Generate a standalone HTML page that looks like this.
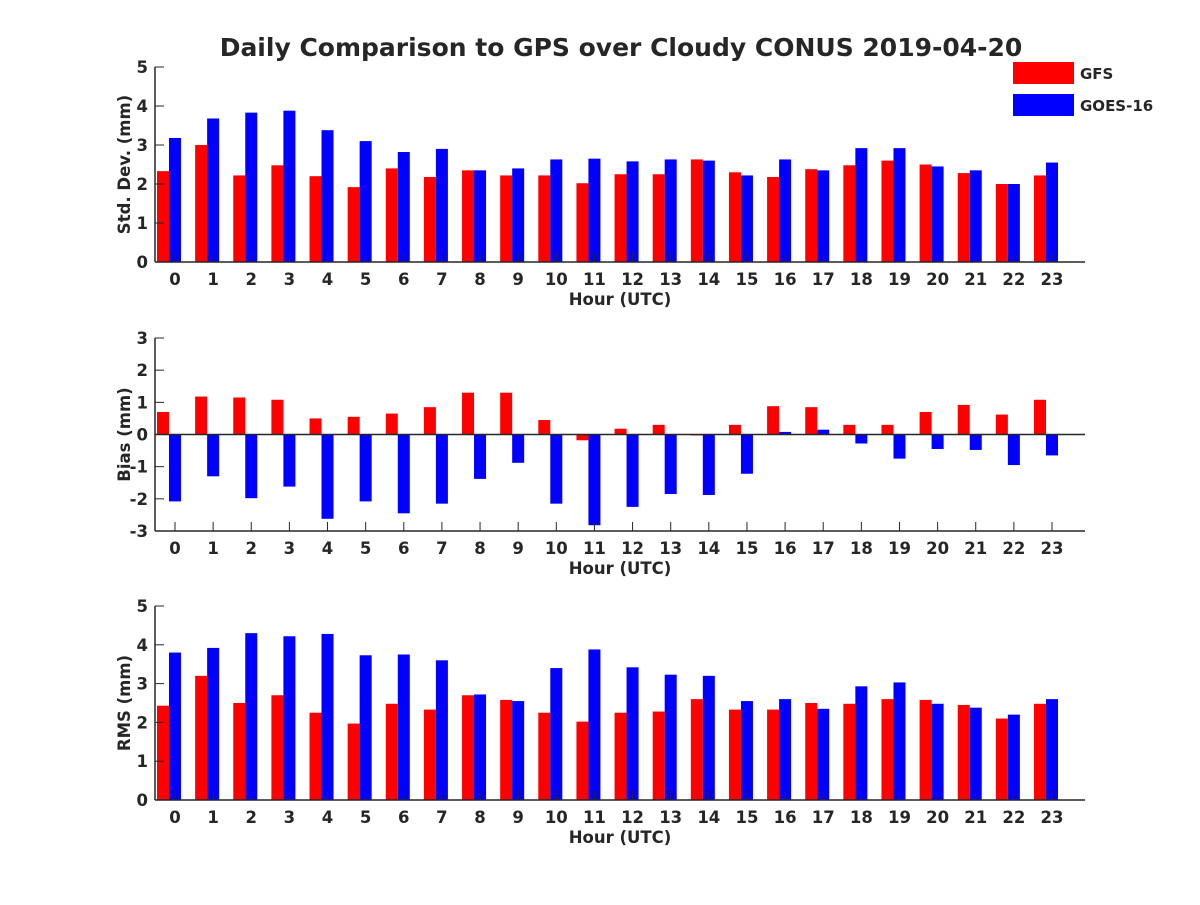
<!DOCTYPE html>
<html><head><meta charset="utf-8"><style>
body{margin:0;background:#fff;}
svg text{font-family:"DejaVu Sans","Liberation Sans",sans-serif;font-weight:bold;fill:#262626;}
</style></head><body>
<svg id="chart" width="1200" height="900" xmlns="http://www.w3.org/2000/svg">
<rect width="1200" height="900" fill="#fff"/>
<text x="621" y="56" text-anchor="middle" font-size="25" fill="#000">Daily Comparison to GPS over Cloudy CONUS 2019-04-20</text>
<g>
<rect x="1013" y="62" width="61" height="22" fill="#ff0000"/>
<text x="1080" y="79" font-size="15" fill="#000">GFS</text>
<rect x="1013" y="94" width="61" height="22" fill="#0000ff"/>
<text x="1080" y="111" font-size="15" fill="#000">GOES-16</text>
</g>
</svg>
<script>
const hours=[0,1,2,3,4,5,6,7,8,9,10,11,12,13,14,15,16,17,18,19,20,21,22,23];
const stdGFS=[2.33,3.0,2.22,2.48,2.2,1.92,2.4,2.18,2.35,2.22,2.22,2.02,2.25,2.25,2.63,2.3,2.18,2.38,2.48,2.6,2.5,2.28,2.0,2.22];
const stdGOES=[3.18,3.68,3.83,3.88,3.38,3.1,2.82,2.9,2.35,2.4,2.63,2.65,2.58,2.63,2.6,2.22,2.63,2.35,2.92,2.92,2.45,2.35,2.0,2.55];
const biasGFS=[0.7,1.18,1.15,1.08,0.5,0.55,0.65,0.85,1.3,1.3,0.45,-0.18,0.18,0.3,-0.03,0.3,0.88,0.85,0.3,0.3,0.7,0.92,0.62,1.08];
const biasGOES=[-2.08,-1.3,-1.98,-1.62,-2.62,-2.08,-2.45,-2.15,-1.38,-0.88,-2.15,-2.82,-2.25,-1.85,-1.88,-1.22,0.08,0.15,-0.28,-0.75,-0.45,-0.48,-0.95,-0.65];
const rmsGFS=[2.43,3.2,2.5,2.7,2.25,1.97,2.48,2.33,2.7,2.58,2.25,2.02,2.25,2.28,2.6,2.33,2.33,2.5,2.48,2.6,2.58,2.45,2.1,2.48];
const rmsGOES=[3.8,3.92,4.3,4.22,4.28,3.73,3.75,3.6,2.72,2.55,3.4,3.88,3.42,3.23,3.2,2.55,2.6,2.35,2.93,3.03,2.48,2.38,2.2,2.6];
const stdTicks=[0,1,2,3,4,5];
const biasTicks=[-3,-2,-1,0,1,2,3];
const rmsTicks=[0,1,2,3,4,5];

const svg=document.getElementById('chart');
const NS='http://www.w3.org/2000/svg';
function mk(tag,attrs,parent){const e=document.createElementNS(NS,tag);for(const k in attrs)e.setAttribute(k,attrs[k]);(parent||svg).appendChild(e);return e;}
const X0=155,X1=1085;
function xs(h){return 175+h*(1052-175)/23;}
function panel(name,top,bottom,ymin,ymax,ticks,ylabel,a,b){
  const g=mk('g',{});
  
  
  const ys=v=>bottom-(v-ymin)/(ymax-ymin)*(bottom-top);
  const bw=12;
  hours.forEach((h,i)=>{
    const y0=ys(0);
    let y=ys(a[i]);
    const r=mk('rect',{x:xs(h)-18,y:Math.min(y,y0),width:bw,height:Math.abs(y0-y),fill:'#ff0000'},g);
    
    
    y=ys(b[i]);
    const r2=mk('rect',{x:xs(h)-6,y:Math.min(y,y0),width:bw,height:Math.abs(y0-y),fill:'#0000ff'},g);
    
    
  });
  mk('line',{x1:X0,y1:top,x2:X0,y2:bottom,stroke:'#262626','stroke-width':1.5},g);
  mk('line',{x1:X0,y1:bottom,x2:X1,y2:bottom,stroke:'#262626','stroke-width':1.5},g);
  if(ymin<0) mk('line',{x1:X0,y1:ys(0),x2:X1,y2:ys(0),stroke:'#262626','stroke-width':1.5},g);
  ticks.forEach(t=>{
    mk('line',{x1:X0,y1:ys(t),x2:X0+9,y2:ys(t),stroke:'#262626','stroke-width':1},g);
    const tx=mk('text',{x:X0-7,y:ys(t)+6,'text-anchor':'end','font-size':16.5},g);
    tx.textContent=t;
    
    
  });
  hours.forEach(h=>{
    mk('line',{x1:xs(h),y1:bottom,x2:xs(h),y2:bottom-9,stroke:'#262626','stroke-width':1},g);
    const tx=mk('text',{x:xs(h),y:bottom+23,'text-anchor':'middle','font-size':16.5},g);
    tx.textContent=h;
    
    
  });
  const xl=mk('text',{x:620,y:bottom+43,'text-anchor':'middle','font-size':16.5},g);
  xl.textContent='Hour (UTC)';
  
  
  const cy=(top+bottom)/2;
  const yl=mk('text',{x:130,y:cy,'text-anchor':'middle','font-size':16.5,transform:'rotate(-90 130 '+cy+')'},g);
  yl.textContent=ylabel;
  
  
}
panel('std',67,262,0,5,stdTicks,'Std. Dev. (mm)',stdGFS,stdGOES);
panel('bias',338,531,-3,3,biasTicks,'Bias (mm)',biasGFS,biasGOES);
panel('rms',606,800,0,5,rmsTicks,'RMS (mm)',rmsGFS,rmsGOES);
</script>
</body></html>
